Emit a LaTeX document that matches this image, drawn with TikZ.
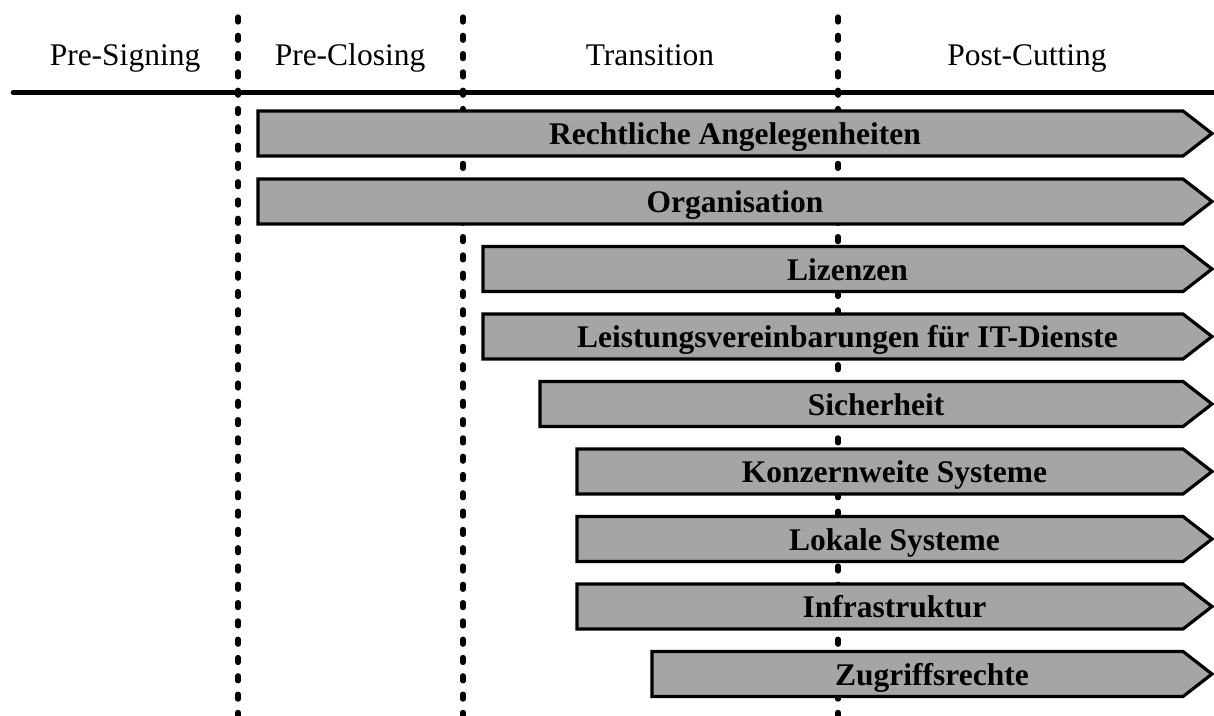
\documentclass[tikz,border=0pt]{standalone}
\usepackage{fontspec}
\setmainfont{Liberation Serif}
\definecolor{barfill}{RGB}{165,165,165}
\tikzset{
  phaseline/.style={line width=5.2pt, line cap=round, dash pattern=on 5pt off 13.3pt},
  timeline/.style={line width=4.5pt, line cap=round},
  barshape/.style={draw=black, fill=barfill, line width=3.2pt, line join=miter},
  bartext/.style={anchor=base, inner sep=0pt, font=\fontsize{31.5pt}{36pt}\selectfont\bfseries},
  phasetext/.style={anchor=base, inner sep=0pt, font=\fontsize{31.5pt}{36pt}\selectfont}
}
% \workbar{name}{left x}{centre y}{label}
\newcommand\workbar[4]{%
  \draw[barshape] (#2,#3-22.5) -- (1183,#3-22.5) -- (1212,#3) -- (1183,#3+22.5) -- (#2,#3+22.5) -- cycle;
  \node[bartext] (#1) at ({(#2+1212)/2},#3+11) {#4};
}
\begin{document}
\begin{tikzpicture}[x=1pt,y=-1pt]
  \useasboundingbox (0,0) rectangle (1214,715);
  % phase separators
  \coordinate (s1t) at (238,17);  \coordinate (s1b) at (238,720);
  \coordinate (s2t) at (463,17);  \coordinate (s2b) at (463,720);
  \coordinate (s3t) at (838,17);  \coordinate (s3b) at (838,720);
  \draw[phaseline] (s1t) -- (s1b);
  \draw[phaseline] (s2t) -- (s2b);
  \draw[phaseline] (s3t) -- (s3b);
  % time axis
  \coordinate (axl) at (13,92.5);
  \coordinate (axr) at (1220,92.5);
  \draw[timeline] (axl) -- (axr);
  % phase names
  \node[phasetext] (p1) at (125,65) {Pre-Signing};
  \node[phasetext] (p2) at (350,65) {Pre-Closing};
  \node[phasetext] (p3) at (650,65) {Transition};
  \node[phasetext] (p4) at (1027,65) {Post-Cutting};
  % work streams
  \workbar{b1}{258}{133.5}{Rechtliche Angelegenheiten}
  \workbar{b2}{258}{201.5}{Organisation}
  \workbar{b3}{483}{269}{Lizenzen}
  \workbar{b4}{483}{336.5}{Leistungsvereinbarungen für IT-Dienste}
  \workbar{b5}{540}{404}{Sicherheit}
  \workbar{b6}{577}{471.5}{Konzernweite Systeme}
  \workbar{b7}{577}{539}{Lokale Systeme}
  \workbar{b8}{577}{606.5}{Infrastruktur}
  \workbar{b9}{652}{674}{Zugriffsrechte}
\end{tikzpicture}
\end{document}
